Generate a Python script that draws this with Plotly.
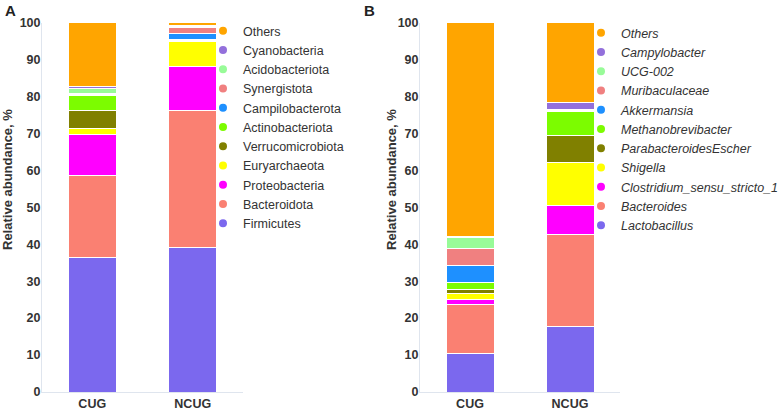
import plotly.graph_objects as go

groups = ["CUG", "NCUG"]

# Panel A (phylum), bottom-to-top stacking order
phyla = ["Firmicutes", "Bacteroidota", "Proteobacteria", "Euryarchaeota",
         "Verrucomicrobiota", "Actinobacteriota", "Campilobacterota",
         "Synergistota", "Acidobacteriota", "Cyanobacteria", "Others"]
phyla_cug = [36.3, 22.2, 11.3, 1.6, 4.7, 4.2, 0.3, 0.3, 1.2, 0.6, 17.3]
phyla_ncug = [39.2, 37.0, 11.9, 6.8, 0.2, 0.4, 1.6, 1.5, 0.3, 0.3, 0.8]

# Panel B (genus), bottom-to-top stacking order
genera = ["Lactobacillus", "Bacteroides", "Clostridium_sensu_stricto_1", "Shigella",
          "ParabacteroidesEscher", "Methanobrevibacter", "Akkermansia",
          "Muribaculaceae", "UCG-002", "Campylobacter", "Others"]
genera_cug = [10.5, 13.1, 1.5, 1.6, 1.0, 1.9, 4.6, 4.6, 3.1, 0.2, 57.9]
genera_ncug = [17.6, 25.0, 7.9, 11.6, 7.3, 6.5, 0.2, 0.2, 0.2, 1.8, 21.7]

colors = ["#7B68EE", "#FA8072", "#FF00FF", "#FFFF00", "#808000", "#7CFC00",
          "#1E90FF", "#F08080", "#98FB98", "#9370DB", "#FFA500"]

y_ticks = [0, 10, 20, 30, 40, 50, 60, 70, 80, 90, 100]

FONT = "Liberation Sans, Arial, sans-serif"
TXT = "#333333"
W, H = 778, 412

fig = go.Figure()

def add_panel(names, v1, v2, xa, ya, legend_name):
    for i, name in enumerate(names):
        fig.add_trace(go.Bar(
            x=groups, y=[v1[i], v2[i]], name=name,
            marker=dict(color=colors[i], line=dict(color="white", width=1)),
            width=0.48, xaxis=xa, yaxis=ya, showlegend=False,
            hoverinfo="name+y",
        ))
    for i, name in enumerate(names):
        fig.add_trace(go.Scatter(
            x=[None], y=[None], mode="markers", name=name,
            marker=dict(color=colors[i], size=8, symbol="circle"),
            xaxis=xa, yaxis=ya, legend=legend_name, showlegend=True,
        ))

add_panel(phyla, phyla_cug, phyla_ncug, "x", "y", "legend")
add_panel(genera, genera_cug, genera_ncug, "x2", "y2", "legend2")

axis_line = "#dfe5ee"
ydom = [20 / H, (H - 22.5) / H]

common_x = dict(type="category", range=[-0.5, 1.5], showline=True, linecolor=axis_line,
                linewidth=1, showgrid=False, zeroline=False, ticks="", ticklen=0,
                tickfont=dict(family=FONT, size=12.5, color=TXT, weight="bold"),
                automargin=False)
common_y = dict(range=[0, 100], tickvals=y_ticks, showline=True, linecolor=axis_line,
                linewidth=1, showgrid=False, zeroline=False, ticks="", ticklen=0,
                ticklabelstandoff=-2,
                tickfont=dict(family=FONT, size=12.5, color=TXT, weight="bold"),
                automargin=False)

title_font = dict(family=FONT, size=13, color=TXT, weight="bold")

fig.update_layout(
    width=W, height=H,
    margin=dict(l=0, r=0, t=0, b=0, autoexpand=False),
    paper_bgcolor="white", plot_bgcolor="white",
    barmode="stack",
    font=dict(family=FONT, color=TXT),
    xaxis=dict(domain=[42 / W, 243 / W], anchor="y", **common_x),
    yaxis=dict(domain=ydom, anchor="x", **common_y),
    xaxis2=dict(domain=[420 / W, 620 / W], anchor="y2", **common_x),
    yaxis2=dict(domain=ydom, anchor="x2", **common_y),
    legend=dict(x=(243 - 40) / W, y=1 - 16 / H, xanchor="left", yanchor="top",
                traceorder="reversed", bgcolor="rgba(0,0,0,0)",
                font=dict(family=FONT, size=12.5, color=TXT)),
    legend2=dict(x=(621 - 40) / W, y=1 - 18 / H, xanchor="left", yanchor="top",
                 traceorder="reversed", bgcolor="rgba(0,0,0,0)",
                 font=dict(family=FONT, size=12.5, color=TXT, style="italic")),
    annotations=[
        dict(text="A", x=3 / W, y=1, xref="paper", yref="paper",
             xanchor="left", yanchor="top", showarrow=False,
             font=dict(family=FONT, size=15, color="#222", weight="bold")),
        dict(text="B", x=362 / W, y=1, xref="paper", yref="paper",
             xanchor="left", yanchor="top", showarrow=False,
             font=dict(family=FONT, size=15, color="#222", weight="bold")),
        dict(text="Relative abundance, %", x=7 / W, y=1 - 180 / H, xref="paper",
             yref="paper", xanchor="center", yanchor="middle", textangle=-90,
             showarrow=False, font=title_font),
        dict(text="Relative abundance, %", x=391 / W, y=1 - 180 / H, xref="paper",
             yref="paper", xanchor="center", yanchor="middle", textangle=-90,
             showarrow=False, font=title_font),
    ],
)

# remove the browser's default 8px body margin so the figure sits at the window origin
fig.write_html("out.html", config={"displayModeBar": False},
               post_script="document.body.style.margin='0px';")
